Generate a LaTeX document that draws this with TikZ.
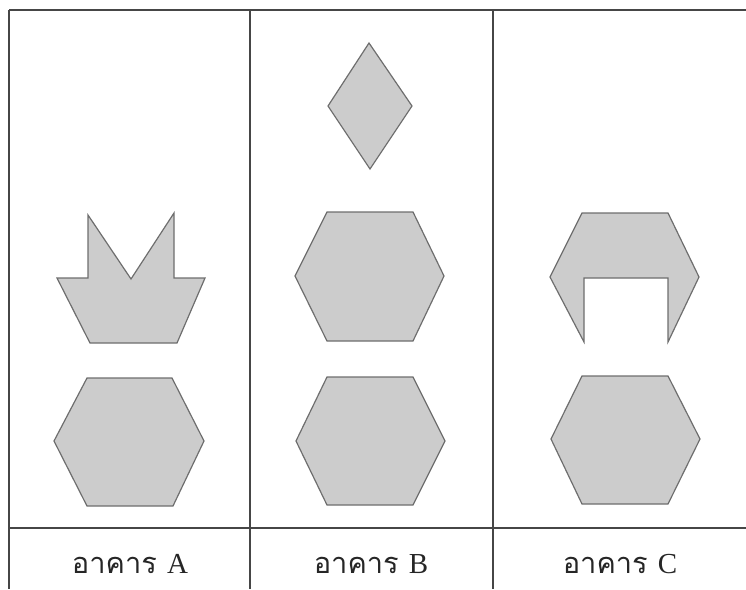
\documentclass[tikz,border=0pt]{standalone}
\usepackage{fontspec}
\setmainfont{Liberation Serif}
\newfontfamily\thaifont[Script=Thai]{Loma}
\definecolor{shapefill}{RGB}{204,204,204}
\definecolor{shapeline}{RGB}{110,110,110}
\definecolor{gridline}{RGB}{70,70,70}
\begin{document}
\begin{tikzpicture}[x=1pt,y=-1pt,
  piece/.style={fill=shapefill,draw=shapeline,line width=1.2pt,line join=miter},
  grid/.style={draw=gridline,line width=1.3pt},
  label/.style={font=\fontsize{29}{32}\selectfont, text=black!85}]
\useasboundingbox (0,0) rectangle (746,589);
% table
\draw[grid,line width=1.8pt] (9,10) -- (746,10);
\draw[grid] (9,10) -- (9,589);
\draw[grid] (250,10) -- (250,589);
\draw[grid] (493,10) -- (493,589);
\draw[grid,line width=1.6pt] (9,528) -- (746,528);
% Building A
\path[piece] (88,215) -- (131,279) -- (174,213) -- (174,278) -- (205,278) -- (177,343)
  -- (90,343) -- (57,278) -- (88,278) -- cycle;
\path[piece] (87,378) -- (172,378) -- (204,441) -- (173,506) -- (87,506) -- (54,441) -- cycle;
% Building B
\path[piece] (369,43) -- (412,106) -- (370,169) -- (328,106) -- cycle;
\path[piece] (327,212) -- (413,212) -- (444,276) -- (413,341) -- (327,341) -- (295,276) -- cycle;
\path[piece] (327,377) -- (413,377) -- (445,441) -- (413,505) -- (327,505) -- (296,441) -- cycle;
% Building C
\path[piece] (582,213) -- (668,213) -- (699,277) -- (668,342) -- (668,278) -- (584,278)
  -- (584,342) -- (550,277) -- cycle;
\path[piece] (582,376) -- (668,376) -- (700,439) -- (668,504) -- (582,504) -- (551,439) -- cycle;
% labels
\node[label] (la) at (130,564) {{\thaifont อาคาร}\hspace{0.35em}A};
\node[label] (lb) at (371,564) {{\thaifont อาคาร}\hspace{0.35em}B};
\node[label] (lc) at (620,564) {{\thaifont อาคาร}\hspace{0.35em}C};
\end{tikzpicture}
\end{document}
